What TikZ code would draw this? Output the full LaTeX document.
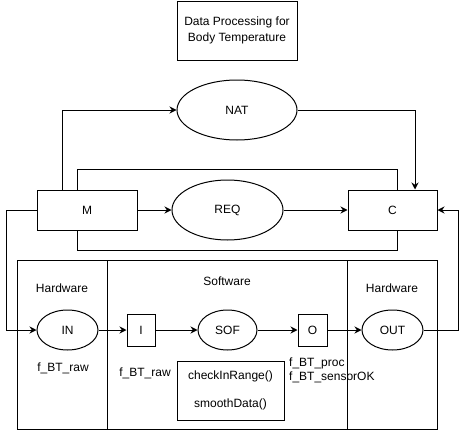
\documentclass[tikz,border=0pt]{standalone}
\usepackage{fontspec}
\setmainfont{Liberation Sans}
\usepackage{tikz}
\usetikzlibrary{positioning,arrows.meta,shapes.geometric}
\tikzset{
  box/.style={rectangle, draw, line width=1pt, inner sep=0pt,
              font=\fontsize{12pt}{16pt}\selectfont},
  oval/.style={ellipse, draw, line width=1pt, inner sep=0pt,
               font=\fontsize{12pt}{16pt}\selectfont},
  panel/.style={rectangle, draw, line width=1pt, inner sep=0pt,
                minimum height=169pt},
  caption/.style={inner sep=0pt, font=\fontsize{12pt}{14pt}\selectfont},
  flow/.style={-{Stealth[length=7pt,width=7pt]}, line width=1pt},
  link/.style={line width=1pt}
}
\begin{document}
\begin{tikzpicture}[x=1pt, y=-1pt]
\useasboundingbox (0,0) rectangle (466,431);
% top part
\node[box, minimum width=120pt, minimum height=59pt, align=center] (title) at (237,30.5) {Data Processing for\\Body Temperature};
\node[oval, minimum width=120pt, minimum height=60pt] (nat) at (237,110) {NAT};
\node[box, minimum width=100pt, minimum height=40pt] (mon) at (87,210) {M};
\node[oval, minimum width=111pt, minimum height=60pt] (req) at (227.5,210) {REQ};
\node[box, minimum width=89pt, minimum height=40pt] (ctrl) at (392.5,210) {C};
% panels
\node[panel, minimum width=90pt] (hwin) at (62,344.5) {};
\node[panel, minimum width=240pt] (sw) at (227,344.5) {};
\node[panel, minimum width=90pt] (hwout) at (392,344.5) {};
\node[caption] (hwinlabel) at (62,288) {Hardware};
\node[caption] (swlabel) at (227,281) {Software};
\node[caption] (hwoutlabel) at (392,288) {Hardware};
% signal chain
\node[oval, minimum width=61pt, minimum height=40pt] (input) at (67.5,330) {IN};
\node[box, minimum width=28pt, minimum height=32pt] (inport) at (141,330) {I};
\node[oval, minimum width=59pt, minimum height=40pt] (sof) at (227.5,330) {SOF};
\node[box, minimum width=29pt, minimum height=32pt] (outport) at (312.5,330) {O};
\node[oval, minimum width=61pt, minimum height=40pt] (output) at (392.5,330) {OUT};
\node[box, minimum width=107pt, minimum height=59pt, align=center] (funcs) at (230.5,390.5) {checkInRange()\\[12pt]smoothData()};
\node[caption] (rawin) at (63,368) {f\_BT\_raw};
\node[caption] (rawport) at (145,373) {f\_BT\_raw};
\node[caption, anchor=west, align=left] (procout) at (289,370) {f\_BT\_proc\\f\_BT\_sensorOK};
% connectors
\draw[flow] ([xshift=-25pt]mon.north) |- (nat.west);
\draw[flow] (nat.east) -| ([xshift=22.5pt]ctrl.north);
\draw[link] ([xshift=-10pt]mon.north) -- ++(0,-20) -| ([xshift=4.5pt]ctrl.north);
\draw[link] ([xshift=-10pt]mon.south) -- ++(0,20) -| ([xshift=4.5pt]ctrl.south);
\draw[flow] (mon) -- (req);
\draw[flow] (req) -- (ctrl);
\draw[flow] (mon.west) -- ++(-30,0) |- (input.west);
\draw[flow] (input) -- (inport);
\draw[flow] (inport) -- (sof);
\draw[flow] (sof) -- (outport);
\draw[flow] (outport) -- (output);
\draw[flow] (output.east) -- ++(35,0) |- (ctrl.east);
\end{tikzpicture}
\end{document}
